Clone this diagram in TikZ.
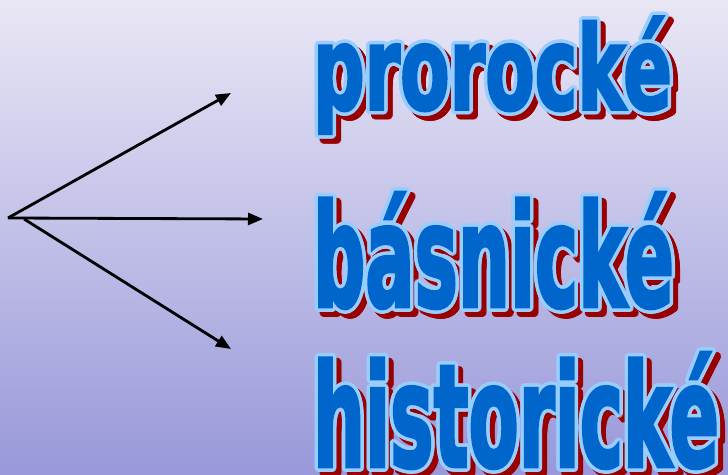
\documentclass[tikz,border=0pt]{standalone}
\usepackage{fontspec}
\usepackage{graphicx}
\usetikzlibrary{arrows.meta}

\newfontfamily\wordfont{DejaVu Sans Condensed}[BoldFeatures={FakeBold=2.5}]
\definecolor{bgtop}{RGB}{233,231,245}
\definecolor{bgbottom}{RGB}{152,152,218}
\definecolor{wordblue}{RGB}{0,102,204}
\definecolor{wordedge}{RGB}{153,204,255}
\definecolor{wordshadow}{RGB}{153,0,0}

\newlength\px
\setlength\px{0.02cm}

% one shifted, coloured copy of the word
\newcommand\wordlayer[3]{%
  \makebox[0pt][l]{\hspace*{#2}\raisebox{#3}{%
    \resizebox*{\wordw}{\wordh}{\color{#1}\wordfont\bfseries\wordtext}}}}
% word with red shadow, light outline and blue face
\newcommand\fancyword[3]{%
  \def\wordtext{#1}\def\wordw{#2}\def\wordh{#3}%
  \foreach \a in {0,22.5,...,337.5}{%
    \pgfmathsetlengthmacro\dx{(5+3.5*cos(\a))*\px}%
    \pgfmathsetlengthmacro\dy{(-5+3.5*sin(\a))*\px}%
    \wordlayer{wordshadow}{\dx}{\dy}}%
  \foreach \a in {0,22.5,...,337.5}{%
    \pgfmathsetlengthmacro\dx{3.5*cos(\a)*\px}%
    \pgfmathsetlengthmacro\dy{3.5*sin(\a)*\px}%
    \wordlayer{wordedge}{\dx}{\dy}}%
  \resizebox*{\wordw}{\wordh}{\color{wordblue}\wordfont\bfseries\wordtext}}

\begin{document}
\begin{tikzpicture}[x=0.02cm, y=-0.02cm,
	word/.style={anchor=north west, inner sep=0pt, outer sep=0pt}]
	\shade[top color=bgtop, bottom color=bgbottom] (0,0) rectangle (728,475);
	\useasboundingbox (0,0) rectangle (728,475);
	\coordinate (fork) at (8,218);
	\coordinate (fork2) at (24,219);
	\coordinate (up) at (231,93);
	\coordinate (mid) at (263,219);
	\coordinate (down) at (231,349);
	\draw[line width=1.6pt, -{Triangle[length=0.3cm,width=0.24cm]}] (fork) -- (up);
	\draw[line width=1.6pt, -{Triangle[length=0.3cm,width=0.24cm]}] (fork) -- (mid);
	\draw[line width=1.6pt, -{Triangle[length=0.3cm,width=0.24cm]}] (fork2) -- (down);
	\node[word] (prorocke) at (313,13) {\fancyword{prorocké}{359\px}{117\px}};
	\node[word] (basnicke) at (313,189) {\fancyword{básnické}{361\px}{116\px}};
	\node[word] (historicke) at (313,349) {\fancyword{historické}{406\px}{116\px}};
\end{tikzpicture}
\end{document}
